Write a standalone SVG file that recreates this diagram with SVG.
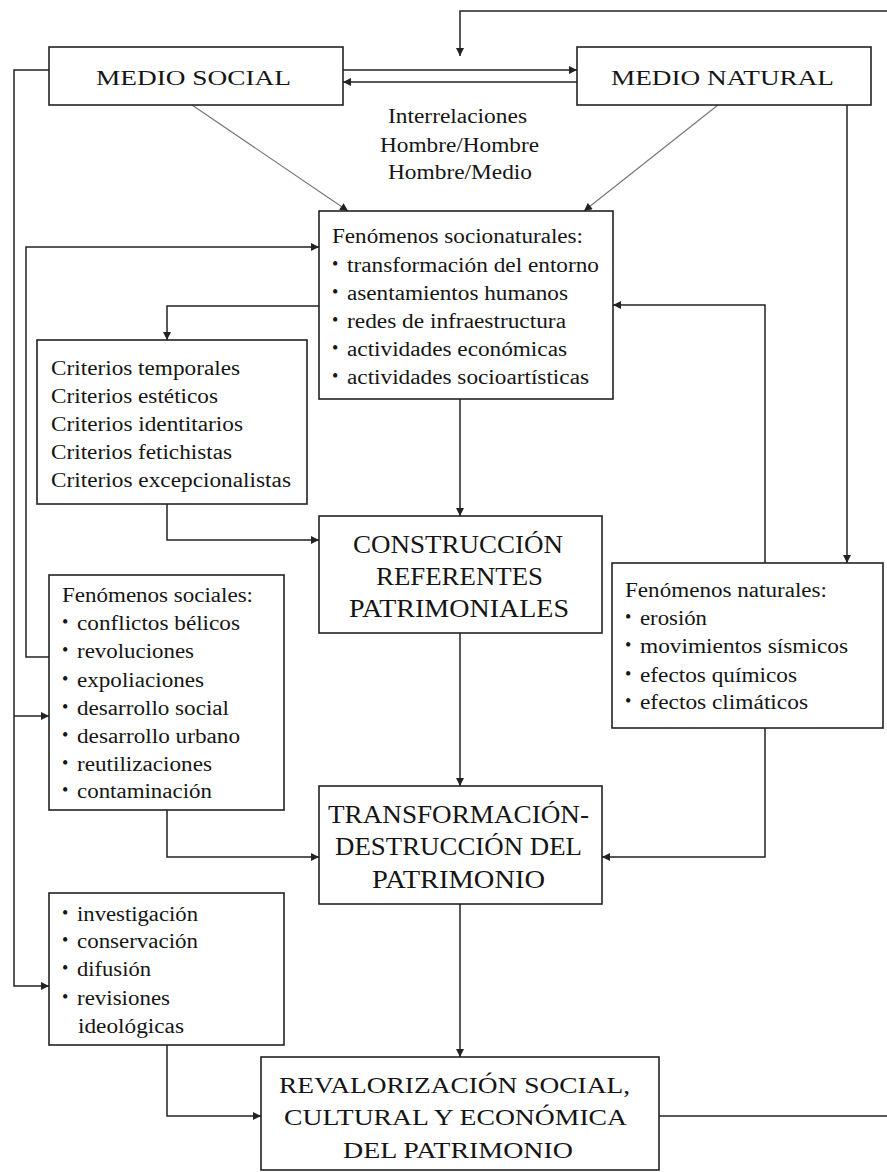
<svg xmlns="http://www.w3.org/2000/svg" width="887" height="1172" viewBox="0 0 887 1172">
<style>
.box{fill:#fff;stroke:#222;stroke-width:1.6}
.ln{fill:none;stroke:#222;stroke-width:1.5}
.dg{fill:none;stroke:#777;stroke-width:1.2}
text{font-family:"Liberation Serif","Times New Roman",serif;fill:#151515}
.t22{font-size:22px}
.t25{font-size:25px}
.t23{font-size:23px}
.b{font-size:20px}
.bu{font-size:18px}
</style>
<defs>
<marker id="ah" viewBox="0 0 10 10" refX="10" refY="5" markerWidth="9" markerHeight="8" markerUnits="userSpaceOnUse" orient="auto">
<path d="M0,0 L10,5 L0,10 z" fill="#222"/>
</marker>
</defs>
<rect width="887" height="1172" fill="#fff"/>

<g id="connectors">
<polyline class="ln" points="887,11 460,11 460,56" marker-end="url(#ah)"/>
<line class="ln" x1="343" y1="70" x2="577" y2="70" marker-end="url(#ah)"/>
<line class="ln" x1="577" y1="82" x2="343" y2="82" marker-end="url(#ah)"/>
<polyline class="ln" points="49,70 14,70 14,986 49,986" marker-end="url(#ah)"/>
<polyline class="ln" points="14,716 49,716" marker-end="url(#ah)"/>
<line class="dg" x1="192" y1="105" x2="348" y2="211" marker-end="url(#ah)"/>
<line class="dg" x1="718" y1="105" x2="584" y2="211" marker-end="url(#ah)"/>
<polyline class="ln" points="49,657 26,657 26,247 319,247" marker-end="url(#ah)"/>
<polyline class="ln" points="319,306 167,306 167,340" marker-end="url(#ah)"/>
<line class="ln" x1="460" y1="399" x2="460" y2="516" marker-end="url(#ah)"/>
<polyline class="ln" points="167,504 167,540 319,540" marker-end="url(#ah)"/>
<line class="ln" x1="460" y1="633" x2="460" y2="786" marker-end="url(#ah)"/>
<line class="ln" x1="847" y1="105" x2="847" y2="563" marker-end="url(#ah)"/>
<polyline class="ln" points="765,563 765,305 613,305" marker-end="url(#ah)"/>
<polyline class="ln" points="167,810 167,857 319,857" marker-end="url(#ah)"/>
<polyline class="ln" points="765,728 765,857 602,857" marker-end="url(#ah)"/>
<line class="ln" x1="460" y1="904" x2="460" y2="1057" marker-end="url(#ah)"/>
<polyline class="ln" points="167,1045 167,1116 261,1116" marker-end="url(#ah)"/>
<line class="ln" x1="659" y1="1116" x2="887" y2="1116"/>
</g>

<g id="medio-social">
<rect class="box" x="49" y="47" width="294" height="58"/>
<text class="t22" x="96" y="85" textLength="195" lengthAdjust="spacingAndGlyphs">MEDIO SOCIAL</text>
</g>

<g id="medio-natural">
<rect class="box" x="577" y="47" width="294" height="58"/>
<text class="t22" x="611" y="85" textLength="223" lengthAdjust="spacingAndGlyphs">MEDIO NATURAL</text>
</g>

<g id="interrelaciones">
<text class="b" x="388" y="123" textLength="139" lengthAdjust="spacingAndGlyphs">Interrelaciones</text>
<text class="b" x="380" y="152" textLength="159" lengthAdjust="spacingAndGlyphs">Hombre/Hombre</text>
<text class="b" x="388" y="179" textLength="144" lengthAdjust="spacingAndGlyphs">Hombre/Medio</text>
</g>

<g id="socionaturales">
<rect class="box" x="319" y="211" width="294" height="188"/>
<text class="b" x="332" y="243" textLength="251" lengthAdjust="spacingAndGlyphs">Fenómenos socionaturales:</text>
<text class="bu" x="332" y="270">•</text>
<text class="b" x="347" y="272" textLength="252" lengthAdjust="spacingAndGlyphs">transformación del entorno</text>
<text class="bu" x="332" y="298">•</text>
<text class="b" x="347" y="300" textLength="221" lengthAdjust="spacingAndGlyphs">asentamientos humanos</text>
<text class="bu" x="332" y="326">•</text>
<text class="b" x="347" y="328" textLength="219" lengthAdjust="spacingAndGlyphs">redes de infraestructura</text>
<text class="bu" x="332" y="354">•</text>
<text class="b" x="347" y="356" textLength="220" lengthAdjust="spacingAndGlyphs">actividades económicas</text>
<text class="bu" x="332" y="382">•</text>
<text class="b" x="347" y="384" textLength="242" lengthAdjust="spacingAndGlyphs">actividades socioartísticas</text>
</g>

<g id="criterios">
<rect class="box" x="37" y="340" width="270" height="164"/>
<text class="b" x="51" y="375" textLength="189" lengthAdjust="spacingAndGlyphs">Criterios temporales</text>
<text class="b" x="51" y="403" textLength="167" lengthAdjust="spacingAndGlyphs">Criterios estéticos</text>
<text class="b" x="51" y="431" textLength="192" lengthAdjust="spacingAndGlyphs">Criterios identitarios</text>
<text class="b" x="51" y="459" textLength="181" lengthAdjust="spacingAndGlyphs">Criterios fetichistas</text>
<text class="b" x="51" y="487" textLength="240" lengthAdjust="spacingAndGlyphs">Criterios excepcionalistas</text>
</g>

<g id="construccion">
<rect class="box" x="319" y="516" width="283" height="117"/>
<text class="t25" x="353" y="553" textLength="210" lengthAdjust="spacingAndGlyphs">CONSTRUCCIÓN</text>
<text class="t25" x="376" y="585" textLength="167" lengthAdjust="spacingAndGlyphs">REFERENTES</text>
<text class="t25" x="349" y="617" textLength="220" lengthAdjust="spacingAndGlyphs">PATRIMONIALES</text>
</g>

<g id="fenomenos-sociales">
<rect class="box" x="49" y="575" width="235" height="235"/>
<text class="b" x="62" y="602" textLength="191" lengthAdjust="spacingAndGlyphs">Fenómenos sociales:</text>
<text class="bu" x="62" y="628">•</text>
<text class="b" x="77" y="630" textLength="163" lengthAdjust="spacingAndGlyphs">conflictos bélicos</text>
<text class="bu" x="62" y="656">•</text>
<text class="b" x="77" y="658" textLength="117" lengthAdjust="spacingAndGlyphs">revoluciones</text>
<text class="bu" x="62" y="685">•</text>
<text class="b" x="77" y="687" textLength="127" lengthAdjust="spacingAndGlyphs">expoliaciones</text>
<text class="bu" x="62" y="713">•</text>
<text class="b" x="77" y="715" textLength="152" lengthAdjust="spacingAndGlyphs">desarrollo social</text>
<text class="bu" x="62" y="741">•</text>
<text class="b" x="77" y="743" textLength="163" lengthAdjust="spacingAndGlyphs">desarrollo urbano</text>
<text class="bu" x="62" y="769">•</text>
<text class="b" x="77" y="771" textLength="135" lengthAdjust="spacingAndGlyphs">reutilizaciones</text>
<text class="bu" x="62" y="796">•</text>
<text class="b" x="77" y="798" textLength="135" lengthAdjust="spacingAndGlyphs">contaminación</text>
</g>

<g id="fenomenos-naturales">
<rect class="box" x="612" y="563" width="271" height="165"/>
<text class="b" x="625" y="597" textLength="202" lengthAdjust="spacingAndGlyphs">Fenómenos naturales:</text>
<text class="bu" x="625" y="623">•</text>
<text class="b" x="640" y="625" textLength="67" lengthAdjust="spacingAndGlyphs">erosión</text>
<text class="bu" x="625" y="651">•</text>
<text class="b" x="640" y="653" textLength="208" lengthAdjust="spacingAndGlyphs">movimientos sísmicos</text>
<text class="bu" x="625" y="680">•</text>
<text class="b" x="640" y="682" textLength="157" lengthAdjust="spacingAndGlyphs">efectos químicos</text>
<text class="bu" x="625" y="707">•</text>
<text class="b" x="640" y="709" textLength="168" lengthAdjust="spacingAndGlyphs">efectos climáticos</text>
</g>

<g id="transformacion">
<rect class="box" x="319" y="786" width="283" height="118"/>
<text class="t25" x="328" y="823" textLength="261" lengthAdjust="spacingAndGlyphs">TRANSFORMACIÓN-</text>
<text class="t25" x="335" y="855" textLength="247" lengthAdjust="spacingAndGlyphs">DESTRUCCIÓN DEL</text>
<text class="t25" x="372" y="888" textLength="173" lengthAdjust="spacingAndGlyphs">PATRIMONIO</text>
</g>

<g id="acciones">
<rect class="box" x="49" y="893" width="235" height="152"/>
<text class="bu" x="62" y="919">•</text>
<text class="b" x="77" y="921" textLength="121" lengthAdjust="spacingAndGlyphs">investigación</text>
<text class="bu" x="62" y="946">•</text>
<text class="b" x="77" y="948" textLength="121" lengthAdjust="spacingAndGlyphs">conservación</text>
<text class="bu" x="62" y="974">•</text>
<text class="b" x="77" y="976" textLength="74" lengthAdjust="spacingAndGlyphs">difusión</text>
<text class="bu" x="62" y="1003">•</text>
<text class="b" x="77" y="1005" textLength="93" lengthAdjust="spacingAndGlyphs">revisiones</text>
<text class="b" x="78" y="1033" textLength="106" lengthAdjust="spacingAndGlyphs">ideológicas</text>
</g>

<g id="revalorizacion">
<rect class="box" x="261" y="1057" width="398" height="113"/>
<text class="t23" x="279" y="1093" textLength="351" lengthAdjust="spacingAndGlyphs">REVALORIZACIÓN SOCIAL,</text>
<text class="t23" x="284" y="1125" textLength="343" lengthAdjust="spacingAndGlyphs">CULTURAL Y ECONÓMICA</text>
<text class="t23" x="343" y="1158" textLength="230" lengthAdjust="spacingAndGlyphs">DEL PATRIMONIO</text>
</g>
</svg>
